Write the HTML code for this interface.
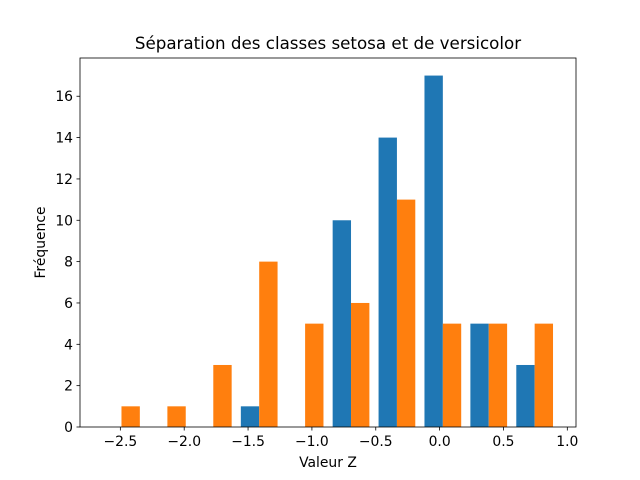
<!DOCTYPE html>
<html><head><meta charset="utf-8"><style>body{margin:0;background:#fff}svg{display:block;font-family:"DejaVu Sans","Liberation Sans",sans-serif}</style></head>
<body>
<svg id="c" width="640" height="480"></svg>
<script>
const binStart = -2.671;
const binWidth = 0.3595;
const setosaCounts = [0,0,0,1,0,10,14,17,5,3];
const versicolorCounts = [1,1,3,8,5,6,11,5,5,5];
const xTicks = [-2.5,-2.0,-1.5,-1.0,-0.5,0.0,0.5,1.0];
const yTicks = [0,2,4,6,8,10,12,14,16];
const L=80,R=576,T=58,B=427;
const xmin=-2.816,xmax=1.068,ymin=0,ymax=17.85;
const X=v=>L+(v-xmin)/(xmax-xmin)*(R-L);
const Y=v=>B-(v-ymin)/(ymax-ymin)*(B-T);
const svg=document.getElementById('c');const NS='http://www.w3.org/2000/svg';
function mk(t,a,txt){const e=document.createElementNS(NS,t);for(const k in a)e.setAttribute(k,a[k]);if(txt!=null)e.textContent=txt;svg.appendChild(e);return e;}
function bars(counts,off,color,name){counts.forEach((c,i)=>{const s=binStart+i*binWidth+binWidth*0.1+off*binWidth*0.4;const x0=X(s),x1=X(s+binWidth*0.4);const r=mk('rect',{x:x0,y:Y(c),width:x1-x0,height:Y(0)-Y(c),fill:color});

});}
bars(setosaCounts,0,'#1f77b4','setosa');
bars(versicolorCounts,1,'#ff7f0e','versicolor');
const f=mk('rect',{x:L,y:T,width:R-L,height:B-T,fill:'none',stroke:'#000','stroke-width':0.8});

xTicks.forEach(v=>{const x=X(v);mk('line',{x1:x,x2:x,y1:B,y2:B+3.5,stroke:'#000','stroke-width':0.8});
const t=mk('text',{x:x,y:B+19,'text-anchor':'middle','font-size':13.9},(v<0?'\u2212':'')+Math.abs(v).toFixed(1));
});
yTicks.forEach(v=>{const y=Y(v);mk('line',{x1:L,x2:L-3.5,y1:y,y2:y,stroke:'#000','stroke-width':0.8});
const t=mk('text',{x:L-7,y:y+5,'text-anchor':'end','font-size':13.9},String(v));
});
const xt=mk('text',{x:(L+R)/2,y:467,'text-anchor':'middle','font-size':13.9},'Valeur Z');

const yt=mk('text',{x:0,y:0,'text-anchor':'middle','font-size':13.9,transform:`translate(45,${(T+B)/2}) rotate(-90)`},'Fréquence');

const tt=mk('text',{x:(L+R)/2,y:49,'text-anchor':'middle','font-size':16.7},'Séparation des classes setosa et de versicolor');

</script>
</body></html>
